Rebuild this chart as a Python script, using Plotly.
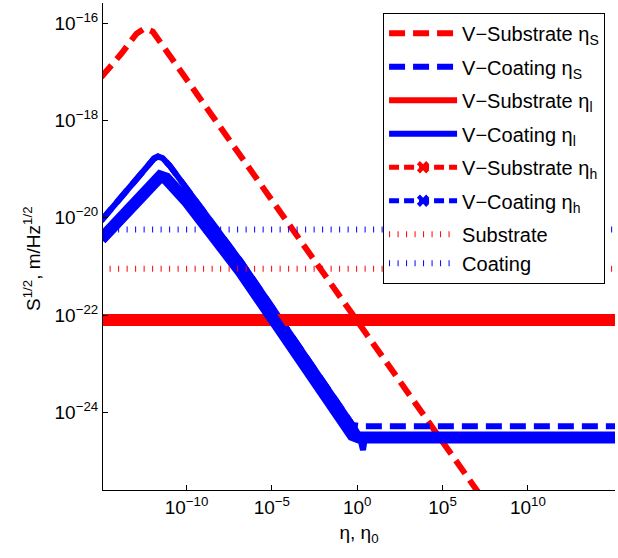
import plotly.graph_objects as go

# ---- values, stored as log10 exponents ----
# V-Substrate eta_S (red dashed)
rs_x = [-15.0, -13.81, -12.93, -12.45, -11.97, -7.08, 6.71, 8.0]
rs_y = [-17.11, -16.62, -16.21, -16.10, -16.17, -18.61, -25.46, -26.1]
# V-Coating eta_S (blue dashed)
cs_x = [-15.0, -12.6, -12.2, -11.9, -11.67, -11.4, -11.0, -9.93, -6.81, -0.27, 0.3, 15.5]
cs_y = [-20.06, -19.05, -18.88, -18.78, -18.74, -18.77, -18.92, -19.42, -20.90, -24.26, -24.29, -24.29]
# V-Substrate eta_l (red solid)
rl_x = [-15.0, 15.5]
rl_y = [-22.10, -22.10]
# V-Coating eta_l (blue solid)
cl_x = [-15.0, -12.6, -12.2, -11.9, -11.67, -11.4, -11.0, -9.93, -6.81, -0.27, 0.15, 0.34, 0.45, 15.5]
cl_y = [-20.06, -19.05, -18.88, -18.78, -18.74, -18.77, -18.92, -19.42, -20.90, -24.26, -24.5, -24.78, -24.52, -24.52]
# V-Substrate eta_h (red, x markers)
rh_x = [-15.0, 15.5]
rh_y = [-22.10, -22.10]
# V-Coating eta_h (blue, x markers)
ch_x = [-15.0, -12.5, -12.1, -11.8, -11.54, -11.2, -10.8, -9.93, -6.81, -0.27, 0.1, 15.5]
ch_y = [-20.44, -19.45, -19.28, -19.19, -19.15, -19.19, -19.32, -19.68, -21.11, -24.47, -24.52, -24.52]
# Substrate / Coating (dotted)
sub_x = [-15.0, 15.5]
sub_y = [-21.05, -21.05]
coat_x = [-15.0, 15.5]
coat_y = [-20.24, -20.24]

x_tickvals = [-10, -5, 0, 5, 10]
x_ticktext = ["10<sup>−10</sup>", "10<sup>−5</sup>", "10<sup>0</sup>", "10<sup>5</sup>", "10<sup>10</sup>"]
y_tickvals = [-24, -22, -20, -18, -16]
y_ticktext = ["10<sup>−24</sup>", "10<sup>−22</sup>", "10<sup>−20</sup>", "10<sup>−18</sup>", "10<sup>−16</sup>"]


def p10(v):
    return [10.0 ** e for e in v]


RED = "#FF0000"
BLUE = "#0000FF"
FONT = "Liberation Sans, Arial, Helvetica, sans-serif"

fig = go.Figure()

fig.add_trace(go.Scatter(x=p10(rs_x), y=p10(rs_y), mode="lines",
                         line=dict(color=RED, width=6, dash="16px,8px"),
                         name="V−Substrate η<sub>S</sub>", legendgroup="g1"))
fig.add_trace(go.Scatter(x=p10(cs_x), y=p10(cs_y), mode="lines",
                         line=dict(color=BLUE, width=6, dash="16px,8px"),
                         name="V−Coating η<sub>S</sub>", legendgroup="g2"))
fig.add_trace(go.Scatter(x=p10(rl_x), y=p10(rl_y), mode="lines",
                         line=dict(color=RED, width=6),
                         name="V−Substrate η<sub>l</sub>", legendgroup="g3"))
fig.add_trace(go.Scatter(x=p10(cl_x), y=p10(cl_y), mode="lines",
                         line=dict(color=BLUE, width=6),
                         name="V−Coating η<sub>l</sub>", legendgroup="g4"))
# dense-marker bands (drawn as thick lines)
fig.add_trace(go.Scatter(x=p10(rh_x), y=p10(rh_y), mode="lines",
                         line=dict(color=RED, width=12),
                         showlegend=False, legendgroup="g5"))
fig.add_trace(go.Scatter(x=p10(ch_x), y=p10(ch_y), mode="lines",
                         line=dict(color=BLUE, width=12),
                         showlegend=False, legendgroup="g6"))
# legend entries for the marker series
fig.add_trace(go.Scatter(x=[None], y=[None], mode="lines+markers",
                         line=dict(color=RED, width=5, dash="10px,5px"),
                         marker=dict(symbol="x", size=11, color=RED, line=dict(width=0)),
                         name="V−Substrate η<sub>h</sub>", legendgroup="g5"))
fig.add_trace(go.Scatter(x=[None], y=[None], mode="lines+markers",
                         line=dict(color=BLUE, width=5, dash="10px,5px"),
                         marker=dict(symbol="x", size=11, color=BLUE, line=dict(width=0)),
                         name="V−Coating η<sub>h</sub>", legendgroup="g6"))
fig.add_trace(go.Scatter(x=p10(sub_x), y=p10(sub_y), mode="lines",
                         line=dict(color=RED, width=6, dash="1px,7.5px"),
                         name="Substrate", legendgroup="g7"))
fig.add_trace(go.Scatter(x=p10(coat_x), y=p10(coat_y), mode="lines",
                         line=dict(color=BLUE, width=6, dash="1px,7.5px"),
                         name="Coating", legendgroup="g7"))

axis_common = dict(
    type="log", showgrid=False, zeroline=False, automargin=False,
    ticks="inside", ticklen=5, tickwidth=1, tickcolor="black",
    showline=True, linecolor="black", linewidth=1,
    tickmode="array", tickfont=dict(family=FONT, size=19, color="black"),
)
XR = [-14.89, 15.1]
YR = [-25.6, -15.58]

fig.update_layout(
    width=618, height=558,
    margin=dict(l=103, r=3, t=3, b=68, autoexpand=False),
    paper_bgcolor="white", plot_bgcolor="white",
    font=dict(family=FONT, color="black", size=19),
    xaxis=dict(axis_common, range=XR,
               tickvals=p10(x_tickvals), ticktext=x_ticktext,
               title=dict(text="η, η<sub>0</sub>", font=dict(size=19), standoff=8)),
    yaxis=dict(axis_common, range=YR,
               tickvals=p10(y_tickvals), ticktext=y_ticktext),
    xaxis2=dict(axis_common, range=XR, overlaying="x", side="top",
                tickvals=p10(x_tickvals), showticklabels=False),
    yaxis2=dict(axis_common, range=YR, overlaying="y", side="right",
                tickvals=p10(y_tickvals), showticklabels=False),
    legend=dict(x=0.547, y=0.98, xanchor="left", yanchor="top",
                bgcolor="white", bordercolor="black", borderwidth=1,
                font=dict(family=FONT, size=20, color="black"),
                traceorder="grouped", tracegroupgap=4.5, itemwidth=68,
                entrywidth=134, entrywidthmode="pixels"),
    showlegend=True,
    annotations=[dict(text="S<sup>1/2</sup>, m/Hz<sup>1/2</sup>", textangle=-90,
                      xref="paper", yref="paper", x=-0.140, y=0.475,
                      xanchor="center", yanchor="middle", showarrow=False,
                      font=dict(family=FONT, size=19, color="black"))],
)

fig.write_html("out.html", config={"displayModeBar": False},
               post_script="document.body.style.margin='0';document.body.style.padding='0';")
